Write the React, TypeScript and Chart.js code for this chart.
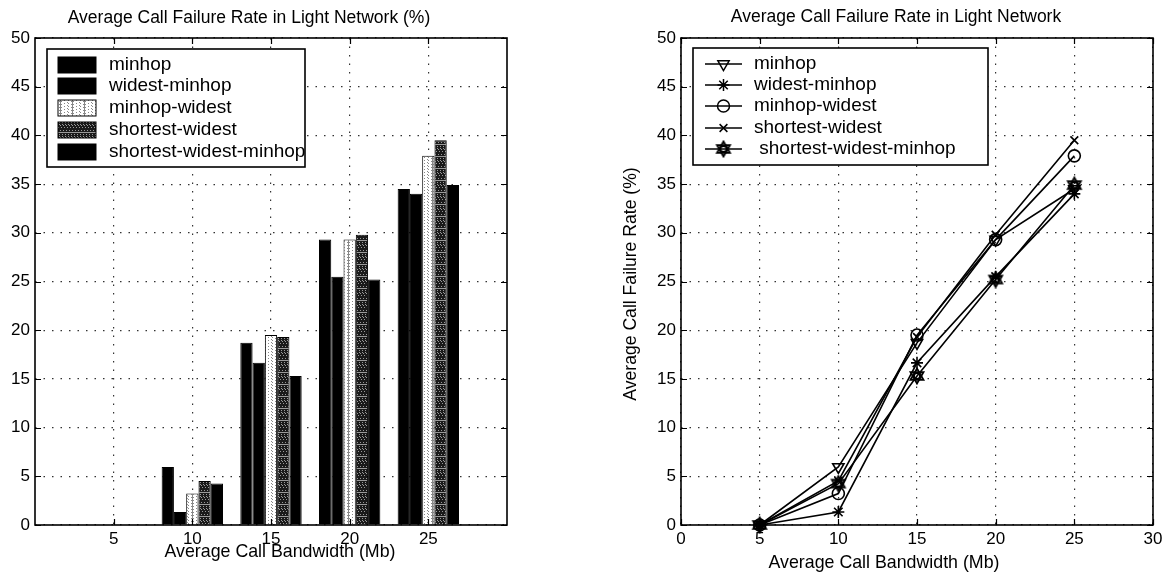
import React, { useEffect, useRef } from 'react';
import { Chart, registerables } from 'chart.js';
import { drawPoint } from 'chart.js/helpers';

Chart.register(...registerables);

// ---------------- data ----------------
const bandwidths = [5, 10, 15, 20, 25];
const seriesNames = ['minhop', 'widest-minhop', 'minhop-widest', 'shortest-widest', 'shortest-widest-minhop'];
const minhop = [0, 5.96, 18.7, 29.3, 34.5];
const widestMinhop = [0, 1.34, 16.65, 25.5, 34.0];
const minhopWidest = [0, 3.23, 19.5, 29.3, 37.9];
const shortestWidest = [0, 4.52, 19.3, 29.8, 39.5];
const shortestWidestMinhop = [0, 4.25, 15.3, 25.2, 34.9];
const yTicks = [0, 5, 10, 15, 20, 25, 30, 35, 40, 45, 50];
const leftXTicks = [5, 10, 15, 20, 25];
const rightXTicks = [0, 5, 10, 15, 20, 25, 30];
const leftTitle = 'Average Call Failure Rate in Light Network (%)';
const rightTitle = 'Average Call Failure Rate in Light Network';
const xAxisTitle = 'Average Call Bandwidth (Mb)';
const yAxisTitleRight = 'Average Call Failure Rate (%)';
const rightLegendLabels = ['minhop', 'widest-minhop', 'minhop-widest', 'shortest-widest', ' shortest-widest-minhop'];

const seriesValues = [minhop, widestMinhop, minhopWidest, shortestWidest, shortestWidestMinhop];

const FONT = "'Liberation Sans', Arial, Helvetica, sans-serif";

function makePattern(ctx: CanvasRenderingContext2D, bg: string, dot: string, mod: number) {
  const c = document.createElement('canvas');
  c.width = 12;
  c.height = 12;
  const g = c.getContext('2d')!;
  g.fillStyle = bg;
  g.fillRect(0, 0, 12, 12);
  g.fillStyle = dot;
  for (let i = 0; i < 12; i++) {
    for (let j = 0; j < 12; j++) {
      if ((i * 5 + j * 7 + ((i * j) % 3)) % mod === 0) g.fillRect(i, j, 1, 1);
    }
  }
  return ctx.createPattern(c, 'repeat')!;
}

function makeHexagram() {
  const c = document.createElement('canvas');
  c.width = 18;
  c.height = 18;
  const g = c.getContext('2d')!;
  g.strokeStyle = '#000';
  g.lineWidth = 1.8;
  const cx = 9, cy = 9, r = 7.5;
  for (let t = 0; t < 2; t++) {
    g.beginPath();
    for (let k = 0; k < 3; k++) {
      const ang = -Math.PI / 2 + t * Math.PI + (k * 2 * Math.PI) / 3;
      const x = cx + r * Math.cos(ang);
      const y = cy + r * Math.sin(ang);
      if (k === 0) g.moveTo(x, y);
      else g.lineTo(x, y);
    }
    g.closePath();
    g.stroke();
  }
  g.beginPath();
  g.arc(cx, cy, 3, 0, Math.PI * 2);
  g.stroke();
  return c;
}

const framePlugin = {
  id: 'frame',
  afterDraw(chart: any, _args: any, opts: any) {
    const { ctx, chartArea: a } = chart;
    const xs = chart.scales.x;
    const ys = chart.scales.y;
    ctx.save();
    // inward ticks
    ctx.strokeStyle = '#000';
    ctx.lineWidth = 1.2;
    ctx.setLineDash([]);
    ctx.beginPath();
    xs.ticks.forEach((t: any) => {
      const px = Math.round(xs.getPixelForValue(t.value)) + 0.5;
      ctx.moveTo(px, a.bottom);
      ctx.lineTo(px, a.bottom - 6);
      ctx.moveTo(px, a.top);
      ctx.lineTo(px, a.top + 6);
    });
    ys.ticks.forEach((t: any) => {
      const py = Math.round(ys.getPixelForValue(t.value)) + 0.5;
      ctx.moveTo(a.left, py);
      ctx.lineTo(a.left + 6, py);
      ctx.moveTo(a.right, py);
      ctx.lineTo(a.right - 6, py);
    });
    ctx.stroke();
    // frame
    ctx.lineWidth = 1.6;
    ctx.strokeRect(a.left, a.top, a.right - a.left, a.bottom - a.top);

    // legend
    const L = opts.legend;
    ctx.fillStyle = '#fff';
    ctx.fillRect(L.x, L.y, L.w, L.h);
    ctx.lineWidth = 1.6;
    ctx.strokeStyle = '#000';
    ctx.strokeRect(L.x, L.y, L.w, L.h);
    ctx.font = `19px ${FONT}`;
    ctx.textBaseline = 'middle';
    ctx.textAlign = 'left';
    chart.data.datasets.forEach((ds: any, i: number) => {
      const ry = L.rows[i];
      if (L.kind === 'bar') {
        ctx.fillStyle = ds.backgroundColor;
        ctx.fillRect(L.sx0, ry - 8, L.sx1 - L.sx0, 16);
        ctx.lineWidth = 1;
        ctx.strokeStyle = '#000';
        ctx.strokeRect(L.sx0, ry - 8, L.sx1 - L.sx0, 16);
      } else {
        ctx.lineWidth = 1.5;
        ctx.strokeStyle = '#000';
        ctx.beginPath();
        ctx.moveTo(L.sx0, ry);
        ctx.lineTo(L.sx1, ry);
        ctx.stroke();
        ctx.fillStyle = 'rgba(0,0,0,0)';
        ctx.strokeStyle = '#000';
        drawPoint(ctx, {
          pointStyle: ds.pointStyle,
          rotation: ds.pointRotation || 0,
          radius: ds.pointRadius,
          borderWidth: ds.pointBorderWidth,
        } as any, (L.sx0 + L.sx1) / 2, ry);
      }
      ctx.fillStyle = '#000';
      ctx.fillText(L.labels[i], L.tx, ry);
    });

    // titles
    ctx.fillStyle = '#000';
    ctx.textAlign = 'center';
    ctx.font = `17.5px ${FONT}`;
    ctx.fillText(opts.title.text, opts.title.x, opts.title.y);
    ctx.font = `17.8px ${FONT}`;
    ctx.fillText(opts.xTitle.text, opts.xTitle.x, opts.xTitle.y);
    if (opts.yTitle) {
      ctx.save();
      ctx.font = `17.6px ${FONT}`;
      ctx.translate(opts.yTitle.x, opts.yTitle.y);
      ctx.rotate(-Math.PI / 2);
      ctx.fillText(opts.yTitle.text, 0, 0);
      ctx.restore();
    }
    ctx.restore();
  },
};

function scaleY(width: number) {
  return {
    type: 'linear',
    min: 0,
    max: 50,
    afterBuildTicks: (s: any) => {
      s.ticks = yTicks.map((v) => ({ value: v }));
    },
    grid: { color: '#333', lineWidth: 1.2, drawTicks: false },
    border: { display: false, dash: [1.5, 7] },
    ticks: { padding: 5, font: { size: 17, family: FONT }, color: '#000' },
    afterFit: (s: any) => {
      s.width = width;
    },
  };
}

function scaleX(min: number, max: number, tickVals: number[]) {
  return {
    type: 'linear',
    min,
    max,
    offset: false,
    afterBuildTicks: (s: any) => {
      s.ticks = tickVals.map((v) => ({ value: v }));
    },
    grid: { color: '#333', lineWidth: 1.2, drawTicks: false, offset: false },
    border: { display: false, dash: [1.5, 7] },
    ticks: { padding: 4, font: { size: 17, family: FONT }, color: '#000', maxRotation: 0, autoSkip: false },
    afterFit: (s: any) => {
      s.height = 50;
    },
  };
}

function BarChart() {
  const ref = useRef<HTMLCanvasElement>(null);
  useEffect(() => {
    const cv = ref.current!;
    const ctx = cv.getContext('2d')!;
    const light = makePattern(ctx, '#fff', '#888', 7);
    const dark = makePattern(ctx, '#1a1a1a', '#9a9a9a', 5);
    const fills = ['#000', '#000', light, dark, '#000'];
    const chart = new Chart(cv, {
      type: 'bar',
      data: {
        datasets: seriesNames.map((name, k) => ({
          label: name,
          data: bandwidths.map((b, i) => ({ x: b, y: seriesValues[k][i] })),
          backgroundColor: fills[k],
          borderColor: '#000',
          borderWidth: 1,
          categoryPercentage: 0.78,
          barPercentage: 1,
        })),
      } as any,
      options: {
        animation: false,
        responsive: false,
        layout: { padding: { left: 0, top: 38, right: 73, bottom: 0 } },
        scales: {
          x: scaleX(0, 30, leftXTicks) as any,
          y: scaleY(35) as any,
        },
        plugins: {
          legend: { display: false },
          tooltip: { enabled: false },
          frame: {
            legend: {
              kind: 'bar',
              x: 47, y: 49, w: 258, h: 118,
              rows: [65, 86, 108, 130, 152],
              sx0: 58, sx1: 96, tx: 109,
              labels: seriesNames,
            },
            title: { text: leftTitle, x: 249, y: 18 },
            xTitle: { text: xAxisTitle, x: 280, y: 552 },
          },
        } as any,
      },
      plugins: [framePlugin],
    });
    return () => chart.destroy();
  }, []);
  return <canvas ref={ref} width={580} height={575} style={{ position: 'absolute', left: 0, top: 0 }} />;
}

function LineChart() {
  const ref = useRef<HTMLCanvasElement>(null);
  useEffect(() => {
    const cv = ref.current!;
    const hex = makeHexagram();
    const markers: any[] = [
      { pointStyle: 'triangle', pointRotation: 180, pointRadius: 6.5 },
      { pointStyle: 'star', pointRotation: 0, pointRadius: 6 },
      { pointStyle: 'circle', pointRotation: 0, pointRadius: 6 },
      { pointStyle: 'crossRot', pointRotation: 0, pointRadius: 5.5 },
      { pointStyle: hex, pointRotation: 0, pointRadius: 7 },
    ];
    const chart = new Chart(cv, {
      type: 'line',
      data: {
        datasets: seriesNames.map((name, k) => ({
          label: name,
          data: bandwidths.map((b, i) => ({ x: b, y: seriesValues[k][i] })),
          borderColor: '#000',
          borderWidth: 1.6,
          backgroundColor: 'rgba(0,0,0,0)',
          pointBackgroundColor: 'rgba(0,0,0,0)',
          pointBorderColor: '#000',
          pointBorderWidth: 1.6,
          tension: 0,
          clip: false,
          ...markers[k],
        })),
      } as any,
      options: {
        animation: false,
        responsive: false,
        layout: { padding: { left: 0, top: 38, right: 14, bottom: 0 } },
        scales: {
          x: scaleX(0, 30, rightXTicks) as any,
          y: scaleY(101) as any,
        },
        plugins: {
          legend: { display: false },
          tooltip: { enabled: false },
          frame: {
            legend: {
              kind: 'line',
              x: 113, y: 48, w: 295, h: 117,
              rows: [64, 85, 106, 128, 149],
              sx0: 125, sx1: 162, tx: 174,
              labels: rightLegendLabels,
            },
            title: { text: rightTitle, x: 316, y: 17 },
            xTitle: { text: xAxisTitle, x: 304, y: 563 },
            yTitle: { text: yAxisTitleRight, x: 51, y: 284 },
          },
        } as any,
      },
      plugins: [framePlugin],
    });
    return () => chart.destroy();
  }, []);
  return <canvas ref={ref} width={587} height={575} style={{ position: 'absolute', left: 580, top: 0 }} />;
}

export default function App() {
  return (
    <div style={{ position: 'fixed', left: 0, top: 0, width: 1167, height: 575, background: '#fff', overflow: 'hidden' }}>
      <BarChart />
      <LineChart />
    </div>
  );
}
